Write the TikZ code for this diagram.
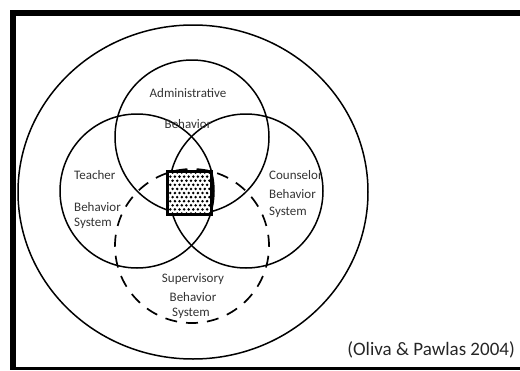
\documentclass[tikz,border=0pt]{standalone}
\usepackage{fontspec}
\setmainfont{Carlito}
\begin{document}
\begin{tikzpicture}[x=1pt,y=-1pt,
  ring/.style={draw=black,line width=1.5pt},
  dashring/.style={draw=black,line width=1.7pt,dash pattern=on 12pt off 9.035pt,dash phase=16.5pt},
  lbl/.style={font=\fontsize{13}{13}\selectfont,text=black!80,inner sep=0pt},
  lbll/.style={lbl,anchor=west},
  cite/.style={font=\fontsize{19}{19}\selectfont,text=black!85,inner sep=0pt}]
\useasboundingbox (0,0) rectangle (520,370);
% frame
\fill[black] (10,10) rectangle (520,15.5);
\fill[black] (10,10) rectangle (15.5,370);
\fill[black] (10,366.5) rectangle (520,370);
% outer circle
\draw[ring] (193,192) ellipse [x radius=175, y radius=167];
% circles
\coordinate (adm) at (192,137);
\coordinate (tch) at (137,191);
\coordinate (cns) at (246,191);
\coordinate (sup) at (192,246);
\draw[ring] (adm) circle [radius=77];
\draw[ring] (tch) circle [radius=77];
\draw[ring] (cns) circle [radius=77];
\draw[dashring] ([shift={(270:77)}]sup) arc [start angle=270, end angle=630, radius=77];
% central square
\node[draw=black,line width=2.4pt,fill=white,minimum width=43pt,minimum height=42pt,inner sep=0pt] (core) at (189.5,193) {};
\begin{scope}
\clip (168,172) rectangle (211,214);
\foreach \r in {0,...,10}{
  \foreach \c in {0,...,10}{
    \pgfmathsetmacro{\xx}{168+\c*4.6+mod(\r,2)*2.3}
    \pgfmathsetmacro{\yy}{172.5+\r*4.1}
    \fill[black] (\xx,\yy) circle [radius=1.4];
  }
}
\end{scope}
\draw[black,line width=2.4pt] (core.north west) rectangle (core.south east);
% labels
\node[lbl] (a1) at (188,93) {Administrative};
\node[lbl] (a2) at (188,124) {Behavior};
\node[lbll] (t1) at (74,175) {Teacher};
\node[lbll] (t2) at (74,207) {Behavior};
\node[lbll] (t3) at (74,223) {System};
\node[lbll] (c1) at (269,175) {Counselor};
\node[lbll] (c2) at (269,194) {Behavior};
\node[lbll] (c3) at (269,212) {System};
\node[lbl] (s1) at (193,279) {Supervisory};
\node[lbl] (s2) at (193,297) {Behavior};
\node[lbl] (s3) at (191,313) {System};
\node[cite,anchor=east] (ct) at (515,350) {(Oliva \& Pawlas 2004)};
\end{tikzpicture}
\end{document}
